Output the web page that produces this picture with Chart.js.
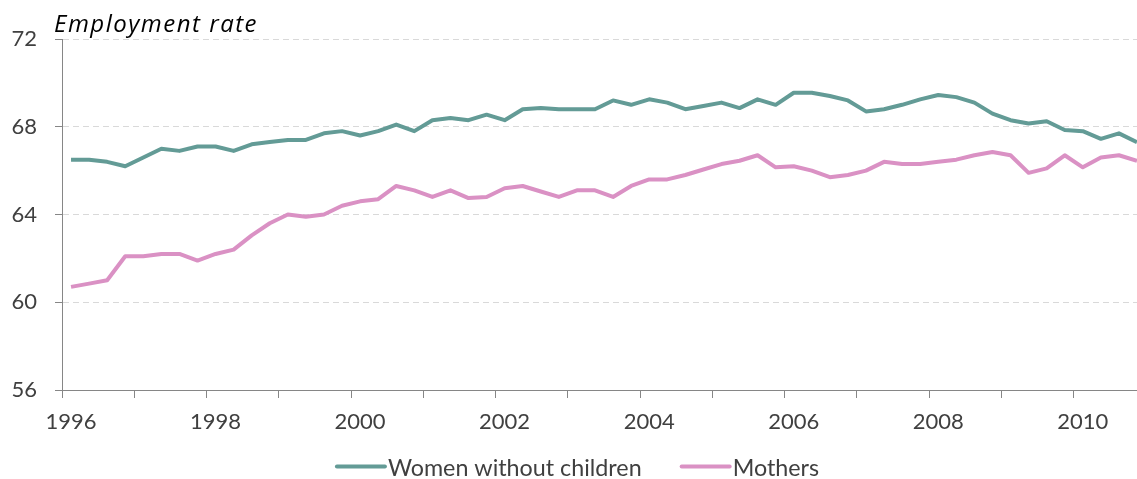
<!DOCTYPE html>
<html><head><meta charset="utf-8">
<script src="https://cdn.jsdelivr.net/npm/chart.js@4.4.0/dist/chart.umd.min.js"></script>
<style>html,body{margin:0;padding:0;background:#fff;overflow:hidden}canvas{display:block}</style>
</head><body>
<canvas id="c" width="1137" height="479"></canvas>
<script>
const quarters = [
  '1996Q1','1996Q2','1996Q3','1996Q4','1997Q1','1997Q2','1997Q3','1997Q4',
  '1998Q1','1998Q2','1998Q3','1998Q4','1999Q1','1999Q2','1999Q3','1999Q4',
  '2000Q1','2000Q2','2000Q3','2000Q4','2001Q1','2001Q2','2001Q3','2001Q4',
  '2002Q1','2002Q2','2002Q3','2002Q4','2003Q1','2003Q2','2003Q3','2003Q4',
  '2004Q1','2004Q2','2004Q3','2004Q4','2005Q1','2005Q2','2005Q3','2005Q4',
  '2006Q1','2006Q2','2006Q3','2006Q4','2007Q1','2007Q2','2007Q3','2007Q4',
  '2008Q1','2008Q2','2008Q3','2008Q4','2009Q1','2009Q2','2009Q3','2009Q4',
  '2010Q1','2010Q2','2010Q3','2010Q4'
];
const womenWithoutChildren = [
  66.5,66.5,66.4,66.2,66.6,67.0,66.9,67.1,
  67.1,66.9,67.2,67.3,67.4,67.4,67.7,67.8,
  67.6,67.8,68.1,67.8,68.3,68.4,68.3,68.55,
  68.3,68.8,68.85,68.8,68.8,68.8,69.2,69.0,
  69.25,69.1,68.8,68.95,69.1,68.85,69.25,69.0,
  69.55,69.55,69.4,69.2,68.7,68.8,69.0,69.25,
  69.45,69.35,69.1,68.6,68.3,68.15,68.25,67.85,
  67.8,67.45,67.7,67.3
];
const mothers = [
  60.7,60.85,61.0,62.1,62.1,62.2,62.2,61.9,
  62.2,62.4,63.05,63.6,64.0,63.9,64.0,64.4,
  64.6,64.7,65.3,65.1,64.8,65.1,64.75,64.8,
  65.2,65.3,65.05,64.8,65.1,65.1,64.8,65.3,
  65.6,65.6,65.8,66.05,66.3,66.45,66.7,66.15,
  66.2,66.0,65.7,65.8,66.0,66.4,66.3,66.3,
  66.4,66.5,66.7,66.85,66.7,65.9,66.1,66.7,
  66.15,66.6,66.7,66.45
];
const yearTicks = [1996,1997,1998,1999,2000,2001,2002,2003,2004,2005,2006,2007,2008,2009,2010];
const yearLabels = ['1996','1998','2000','2002','2004','2006','2008','2010'];
const yTicks = [56,60,64,68,72];
const titleText = 'Employment rate';
const seriesNames = ['Women without children','Mothers'];
const seriesColors = ['#639B96','#DA91C4'];

function quarterToX(q){ const p = q.split('Q'); return +p[0] + (+p[1] - 0.5) / 4; }
function toPoints(arr){ return arr.map((v,i)=>({x: quarterToX(quarters[i]), y: v})); }

const FONT = 'Lato';
const AXIS = '#868686';
const TXT = '#404040';

const titlePlugin = {
  id: 'titleText',
  afterDraw(chart){
    const ctx = chart.ctx;
    ctx.save();
    ctx.font = 'italic 24px "Open Sans"';
    if ('letterSpacing' in ctx) ctx.letterSpacing = '1.5px';
    ctx.fillStyle = '#000';
    ctx.textBaseline = 'alphabetic';
    ctx.textAlign = 'left';
    ctx.fillText(titleText, chart.chartArea.left - 8, chart.chartArea.top - 7);
    ctx.restore();
  }
};
const legendPlugin = {
  id: 'lineLegend',
  afterDraw(chart){
    const ctx = chart.ctx;
    ctx.save();
    ctx.font = '23.3px ' + FONT;
    const ds = chart.data.datasets;
    const lineW = 52, gapText = 1, gapItem = 38;
    const widths = ds.map(d => ctx.measureText(d.label).width);
    let total = 0;
    widths.forEach((w,i)=>{ total += lineW + gapText + w + (i < widths.length-1 ? gapItem : 0); });
    let x = 577 - total/2;
    const y = 466.5;
    ds.forEach((d,i)=>{
      ctx.strokeStyle = d.borderColor;
      ctx.lineWidth = 4;
      ctx.lineCap = 'round';
      ctx.beginPath(); ctx.moveTo(x+2, y); ctx.lineTo(x+lineW-2, y); ctx.stroke();
      ctx.fillStyle = TXT;
      ctx.textBaseline = 'middle';
      ctx.textAlign = 'left';
      ctx.fillText(d.label, x + lineW + gapText, y + 1.5);
      x += lineW + gapText + widths[i] + gapItem;
    });
    ctx.restore();
  }
};

new Chart(document.getElementById('c'), {
  type: 'line',
  data: {
    datasets: [
      { label: seriesNames[0], data: toPoints(womenWithoutChildren), borderColor: seriesColors[0], backgroundColor: seriesColors[0] },
      { label: seriesNames[1], data: toPoints(mothers), borderColor: seriesColors[1], backgroundColor: seriesColors[1] }
    ]
  },
  options: {
    responsive: false,
    animation: false,
    devicePixelRatio: 1,
    layout: { padding: { top: 39, right: 0, bottom: 0, left: 0 } },
    elements: {
      line: { borderWidth: 4, tension: 0, borderJoinStyle: 'round', borderCapStyle: 'butt' },
      point: { radius: 0, hoverRadius: 0 }
    },
    plugins: { legend: { display: false }, tooltip: { enabled: false }, title: { display: false } },
    scales: {
      x: {
        type: 'linear',
        min: 1996,
        max: 2010.875,
        afterBuildTicks: s => { s.ticks = yearTicks.map(v => ({ value: v })); },
        afterFit: s => { s.height = 89; },
        grid: { drawOnChartArea: false, drawTicks: true, tickLength: 8, tickColor: AXIS, tickWidth: 1 },
        border: { display: true, color: AXIS, width: 1 },
        ticks: {
          autoSkip: false, maxRotation: 0, minRotation: 0,
          labelOffset: 9, padding: 11,
          color: TXT, font: { family: FONT, size: 22 },
          callback: v => yearLabels.includes(String(v)) ? String(v) : ''
        }
      },
      y: {
        min: 56, max: 72,
        afterBuildTicks: s => { s.ticks = yTicks.map(v => ({ value: v })); },
        afterFit: s => { s.width = 62; },
        grid: {
          color: c => (c.tick && c.tick.value === 56) ? 'rgba(0,0,0,0)' : '#d9d9d9',
          lineWidth: 1, drawTicks: true, tickLength: 7, tickColor: AXIS, tickWidth: 1, tickBorderDash: []
        },
        border: { display: true, color: AXIS, width: 1, dash: [6,4] },
        ticks: { padding: 18, color: TXT, font: { family: FONT, size: 22 }, callback: v => String(v) }
      }
    }
  },
  plugins: [titlePlugin, legendPlugin]
});
</script>
</body></html>
